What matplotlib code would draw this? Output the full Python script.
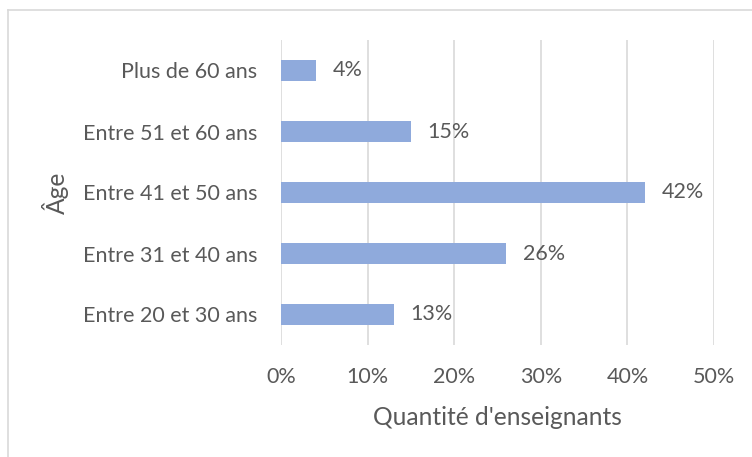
import matplotlib
matplotlib.use("Agg")
import matplotlib.pyplot as plt
from matplotlib.lines import Line2D

categories = ["Entre 20 et 30 ans", "Entre 31 et 40 ans", "Entre 41 et 50 ans",
              "Entre 51 et 60 ans", "Plus de 60 ans"]
values = [13, 26, 42, 15, 4]
xticks = [0, 10, 20, 30, 40, 50]
xticklabels = ["0%", "10%", "20%", "30%", "40%", "50%"]

plt.rcParams['font.family'] = ['Lato', 'DejaVu Sans']
txt = "#595959"
fs = 15.5

fig = plt.figure(figsize=(7.52, 4.57), dpi=100)
ax = fig.add_axes([281/752, 1-345/457, (714-281)/752, (345-40)/457])

ypos = list(range(len(categories)))
ax.barh(ypos, values, height=0.36, color="#8FAADC", zorder=3)
for y, v in zip(ypos, values):
    ax.annotate(f"{v}%", (v, y), xytext=(12, 0), textcoords="offset points",
                va="center", ha="left", fontsize=fs, color=txt)

ax.set_xlim(0, 50)
ax.set_ylim(-0.5, len(categories)-0.5)
ax.set_xticks(xticks)
ax.set_xticklabels(xticklabels, fontsize=fs, color=txt)
ax.set_yticks(ypos)
ax.set_yticklabels(categories, fontsize=fs, color=txt)
ax.tick_params(length=0, pad=16, axis='x')
ax.tick_params(length=0, pad=17, axis='y')
ax.grid(axis='x', color="#D9D9D9", linewidth=1.2, zorder=0)
for s in ax.spines.values():
    s.set_visible(False)
ax.set_xlabel("Quantité d'enseignants", fontsize=17.7, color=txt)
ax.xaxis.set_label_coords(0.5, -0.20)
ax.set_ylabel("Âge", fontsize=17.7, color=txt)
ax.yaxis.set_label_coords(-0.49, 0.5)

fig.add_artist(Line2D([8/752, 8/752], [0, 1-10/457], color="#D9D9D9", lw=1.2, transform=fig.transFigure))
fig.add_artist(Line2D([8/752, 1], [1-10/457, 1-10/457], color="#D9D9D9", lw=1.2, transform=fig.transFigure))

fig.savefig("out.png", dpi=100, facecolor="white")
